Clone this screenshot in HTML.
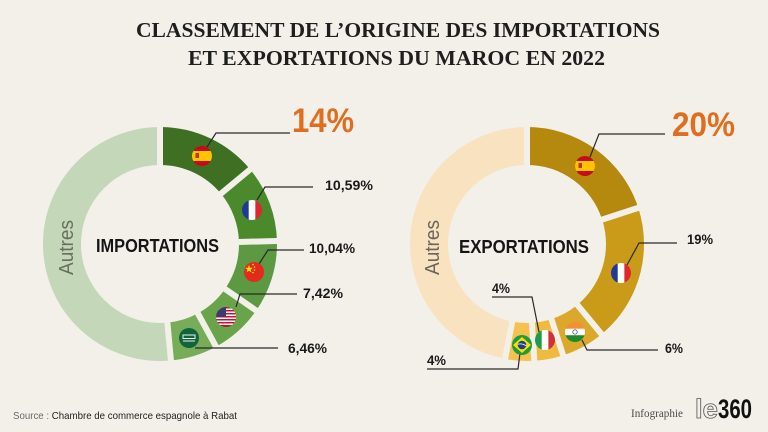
<!DOCTYPE html>
<html><head><meta charset="utf-8"><style>
html,body{margin:0;padding:0;background:#f3f0ea;}
svg{display:block;}
</style></head><body>
<svg width="768" height="432" viewBox="0 0 768 432" xmlns="http://www.w3.org/2000/svg">
<defs>
<clipPath id="fc"><circle cx="0" cy="0" r="10"/></clipPath>
<g id="esp"><g clip-path="url(#fc)"><rect x="-10" y="-10" width="20" height="20" fill="#c60b1e"/><rect x="-10" y="-5" width="20" height="10" fill="#ffc400"/><rect x="-6.5" y="-3" width="3.5" height="5" fill="#ad1519" opacity="0.8"/></g></g>
<g id="fra"><g clip-path="url(#fc)"><rect x="-10" y="-10" width="7" height="20" fill="#1f3a93"/><rect x="-3.3" y="-10" width="6.7" height="20" fill="#fff"/><rect x="3.4" y="-10" width="7" height="20" fill="#e0262f"/></g></g>
<g id="chn"><g clip-path="url(#fc)"><rect x="-10" y="-10" width="20" height="20" fill="#e32b1c"/><polygon points="-5,-7 -4,-4.2 -1.2,-4.2 -3.4,-2.4 -2.6,0.4 -5,-1.3 -7.4,0.4 -6.6,-2.4 -8.8,-4.2 -6,-4.2" fill="#ffde00"/><circle cx="-1" cy="-7.5" r="0.8" fill="#ffde00"/><circle cx="0.5" cy="-5" r="0.8" fill="#ffde00"/><circle cx="0.5" cy="-2" r="0.8" fill="#ffde00"/><circle cx="-1" cy="0.5" r="0.8" fill="#ffde00"/></g></g>
<g id="usa"><g clip-path="url(#fc)"><rect x="-10" y="-10" width="20" height="20" fill="#c8102e"/>
<rect x="-10" y="-8.5" width="20" height="1.5" fill="#fff"/><rect x="-10" y="-5.5" width="20" height="1.5" fill="#fff"/><rect x="-10" y="-2.5" width="20" height="1.5" fill="#fff"/><rect x="-10" y="0.5" width="20" height="1.5" fill="#fff"/><rect x="-10" y="3.5" width="20" height="1.5" fill="#fff"/><rect x="-10" y="6.5" width="20" height="1.5" fill="#fff"/>
<rect x="-10" y="-10" width="10" height="10" fill="#3c3b6e"/></g></g>
<g id="sau"><g clip-path="url(#fc)"><rect x="-10" y="-10" width="20" height="20" fill="#11643a"/><rect x="-6" y="-3" width="12" height="3.5" fill="none" stroke="#e8efe9" stroke-width="1"/><line x1="-6" y1="3" x2="6" y2="3" stroke="#e8efe9" stroke-width="1"/></g></g>
<g id="ind"><g clip-path="url(#fc)"><rect x="-10" y="-10" width="20" height="7" fill="#f58f32"/><rect x="-10" y="-3.3" width="20" height="6.6" fill="#fff"/><rect x="-10" y="3.3" width="20" height="7" fill="#1d8a2b"/><circle cx="0" cy="0" r="2.2" fill="none" stroke="#1a2d7a" stroke-width="0.7"/></g></g>
<g id="ita"><g clip-path="url(#fc)"><rect x="-10" y="-10" width="7" height="20" fill="#1e9a4b"/><rect x="-3.3" y="-10" width="6.7" height="20" fill="#fff"/><rect x="3.4" y="-10" width="7" height="20" fill="#d32f3b"/></g></g>
<g id="bra"><g clip-path="url(#fc)"><rect x="-10" y="-10" width="20" height="20" fill="#1f9a3e"/><polygon points="0,-8 9,0 0,8 -9,0" fill="#fedf00"/><circle cx="0" cy="0" r="4.3" fill="#1c3f94"/><path d="M-4.2,-0.8 Q0,-2 4.2,0.8" stroke="#fff" stroke-width="0.8" fill="none"/></g></g>
</defs>

<rect width="768" height="432" fill="#f3f0ea"/>

<!-- Title -->
<text x="136" y="37" font-family="Liberation Serif, serif" font-weight="bold" font-size="21" fill="#1e1e1e" textLength="524" lengthAdjust="spacingAndGlyphs">CLASSEMENT DE L’ORIGINE DES IMPORTATIONS</text>
<text x="188" y="65" font-family="Liberation Serif, serif" font-weight="bold" font-size="21" fill="#1e1e1e" textLength="417" lengthAdjust="spacingAndGlyphs">ET EXPORTATIONS DU MAROC EN 2022</text>

<!-- Left donut -->
<g transform="translate(160,244) rotate(-90)" fill="none" stroke-width="38">
<circle r="98" stroke="#3f6f22" stroke-dasharray="86.2 1000" stroke-dashoffset="0"/>
<circle r="98" stroke="#4b8a2c" stroke-dasharray="65.2 1000" stroke-dashoffset="-86.2"/>
<circle r="98" stroke="#5d9842" stroke-dasharray="61.8 1000" stroke-dashoffset="-151.4"/>
<circle r="98" stroke="#69a44b" stroke-dasharray="45.7 1000" stroke-dashoffset="-213.2"/>
<circle r="98" stroke="#77ad58" stroke-dasharray="39.8 1000" stroke-dashoffset="-258.9"/>
<circle r="98" stroke="#c4d8b9" stroke-dasharray="317.1 1000" stroke-dashoffset="-298.7"/>
</g>
<g transform="translate(160,244)" stroke="#f3f0ea" stroke-width="6">
<line x1="0" y1="-70" x2="0" y2="-125"/>
<line x1="0" y1="-70" x2="0" y2="-125" transform="rotate(50.4)"/>
<line x1="0" y1="-70" x2="0" y2="-125" transform="rotate(88.52)"/>
<line x1="0" y1="-70" x2="0" y2="-125" transform="rotate(124.67)"/>
<line x1="0" y1="-70" x2="0" y2="-125" transform="rotate(151.38)"/>
<line x1="0" y1="-70" x2="0" y2="-125" transform="rotate(174.64)"/>
</g>

<!-- Right donut -->
<g transform="translate(527,244) rotate(-90)" fill="none" stroke-width="38">
<circle r="98" stroke="#b5880e" stroke-dasharray="123.15 1000" stroke-dashoffset="0"/>
<circle r="98" stroke="#ca9b18" stroke-dasharray="117 1000" stroke-dashoffset="-123.15"/>
<circle r="98" stroke="#dba82c" stroke-dasharray="36.9 1000" stroke-dashoffset="-240.1"/>
<circle r="98" stroke="#f0ba3e" stroke-dasharray="24.6 1000" stroke-dashoffset="-277.1"/>
<circle r="98" stroke="#f5c250" stroke-dasharray="24.6 1000" stroke-dashoffset="-301.7"/>
<circle r="98" stroke="#f9e2c0" stroke-dasharray="289.5 1000" stroke-dashoffset="-326.3"/>
</g>
<g transform="translate(527,244)" stroke="#f3f0ea" stroke-width="6">
<line x1="0" y1="-70" x2="0" y2="-125"/>
<line x1="0" y1="-70" x2="0" y2="-125" transform="rotate(72)"/>
<line x1="0" y1="-70" x2="0" y2="-125" transform="rotate(140.4)"/>
<line x1="0" y1="-70" x2="0" y2="-125" transform="rotate(162)"/>
<line x1="0" y1="-70" x2="0" y2="-125" transform="rotate(176.4)"/>
<line x1="0" y1="-70" x2="0" y2="-125" transform="rotate(190.8)"/>
</g>

<!-- Leader lines -->
<g fill="none" stroke="#2a2a2a" stroke-width="1.2">
<polyline points="207,147 216,133 290,133"/>
<polyline points="257,200 265,187 313,187"/>
<polyline points="259,264 268,250 304,250"/>
<polyline points="236,307 240,294 297,294"/>
<polyline points="195,348 278,348"/>
<polyline points="590,157 599,134 665,134"/>
<polyline points="627,265 639,243 677,243"/>
<polyline points="582,340 587,350 658,350"/>
<polyline points="539,332 532,297 492,297"/>
<polyline points="520,353 518,369 427,369"/>
</g>

<!-- Flags left -->
<use href="#esp" x="202" y="156"/>
<use href="#fra" x="252" y="210"/>
<use href="#chn" x="254" y="272"/>
<use href="#usa" x="226" y="317"/>
<use href="#sau" x="189" y="338"/>
<!-- Flags right -->
<use href="#esp" x="585" y="166"/>
<use href="#fra" x="621" y="273"/>
<use href="#ind" x="575" y="332"/>
<use href="#ita" x="545" y="340"/>
<use href="#bra" x="522" y="345"/>

<!-- Center labels -->
<text x="96" y="252" font-family="Liberation Sans, sans-serif" font-weight="bold" font-size="18" fill="#151515" textLength="123" lengthAdjust="spacingAndGlyphs">IMPORTATIONS</text>
<text x="459" y="253" font-family="Liberation Sans, sans-serif" font-weight="bold" font-size="18" fill="#151515" textLength="130" lengthAdjust="spacingAndGlyphs">EXPORTATIONS</text>

<text transform="translate(73,275) rotate(-90)" font-family="Liberation Sans, sans-serif" font-size="20" fill="#66705c" textLength="55" lengthAdjust="spacingAndGlyphs">Autres</text>
<text transform="translate(439,275) rotate(-90)" font-family="Liberation Sans, sans-serif" font-size="20" fill="#6a655a" textLength="55" lengthAdjust="spacingAndGlyphs">Autres</text>

<!-- Percent labels -->
<g font-family="Liberation Sans, sans-serif" font-weight="bold" fill="#1a1a1a">
<text x="292" y="132" font-size="34" fill="#df6f1f" textLength="62" lengthAdjust="spacingAndGlyphs">14%</text>
<text x="325" y="190" font-size="14" textLength="48" lengthAdjust="spacingAndGlyphs">10,59%</text>
<text x="309" y="253" font-size="14" textLength="46" lengthAdjust="spacingAndGlyphs">10,04%</text>
<text x="303" y="298" font-size="14" textLength="40" lengthAdjust="spacingAndGlyphs">7,42%</text>
<text x="288" y="353" font-size="14" textLength="39" lengthAdjust="spacingAndGlyphs">6,46%</text>
<text x="672" y="136" font-size="34" fill="#df6f1f" textLength="63" lengthAdjust="spacingAndGlyphs">20%</text>
<text x="687" y="244" font-size="14" textLength="26" lengthAdjust="spacingAndGlyphs">19%</text>
<text x="665" y="353" font-size="14" textLength="18" lengthAdjust="spacingAndGlyphs">6%</text>
<text x="492" y="293" font-size="14" textLength="18" lengthAdjust="spacingAndGlyphs">4%</text>
<text x="427" y="365" font-size="14" textLength="19" lengthAdjust="spacingAndGlyphs">4%</text>
</g>

<!-- Footer -->
<text x="13" y="419" font-family="Liberation Sans, sans-serif" font-size="10.5" fill="#1e1e1e" textLength="224" lengthAdjust="spacingAndGlyphs"><tspan fill="#6a6a6a">Source : </tspan>Chambre de commerce espagnole à Rabat</text>
<text x="631" y="417" font-family="Liberation Serif, serif" font-size="11.5" fill="#4a4a4a" textLength="52" lengthAdjust="spacingAndGlyphs">Infographie</text>
<text x="695" y="418" font-family="Liberation Sans, sans-serif" font-weight="bold" font-size="27" fill="#f3f0ea" stroke="#555" stroke-width="0.8" textLength="23" lengthAdjust="spacingAndGlyphs">le</text>
<text x="718" y="418" font-family="Liberation Sans, sans-serif" font-weight="bold" font-size="27" fill="#111" textLength="34" lengthAdjust="spacingAndGlyphs">360</text>
</svg>
</body></html>
